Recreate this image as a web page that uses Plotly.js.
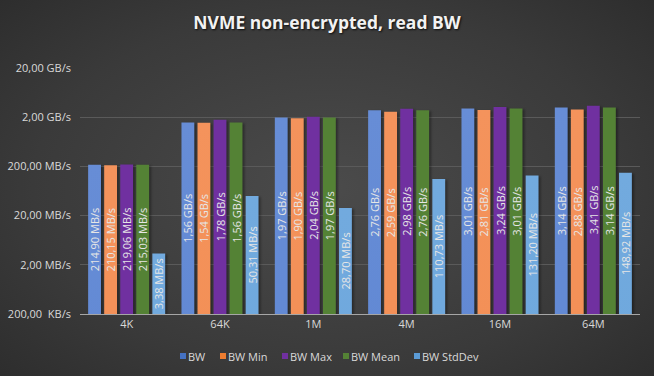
<!DOCTYPE html>
<html>
<head>
<meta charset="utf-8">
<script src="https://cdn.plot.ly/plotly-3.0.1.min.js"></script>
<style>
html,body{margin:0;padding:0;}
body{width:654px;height:376px;overflow:hidden;background:radial-gradient(ellipse 75% 80% at 50% 50%, #4b4b4b 0%, #3a3a3a 60%, #2a2a2a 100%);}
#chart{width:654px;height:376px;}
.trace.bars .point path{filter:drop-shadow(2px 1px 1px rgba(0,0,0,0.35));}
</style>
</head>
<body>
<div id="chart"></div>
<script>
// Values in MB/s
const categories = ['4K','64K','1M','4M','16M','64M'];
const bw       = [214.90, 1560, 1970, 2760, 3010, 3140];
const bwMin    = [210.15, 1540, 1900, 2590, 2810, 2880];
const bwMax    = [219.06, 1780, 2040, 2980, 3240, 3410];
const bwMean   = [215.03, 1560, 1970, 2760, 3010, 3140];
const bwStd    = [3.38, 50.31, 28.70, 110.73, 131.20, 148.92];
const seriesNames = ['BW','BW Min','BW Max','BW Mean','BW StdDev'];
const seriesColors = ['#4472C4','#ED7D31','#7030A0','#548235','#5B9BD5'];
const gradTop    = ['#678dd6','#f4935c','#7030a0','#548235','#72aade'];
const gradBottom = ['#2e60bf','#e9701f','#7030a0','#548235','#4690d2'];
const tickVals = [0.2, 2, 20, 200, 2000, 20000];
const tickText = ['200,00\u00a0\u00a0KB/s','2,00 MB/s','20,00 MB/s','200,00 MB/s','2,00 GB/s','20,00 GB/s'];

function fmt(v){
  if (v >= 1000) return (v/1000).toFixed(2).replace('.', ',') + ' GB/s';
  return v.toFixed(2).replace('.', ',') + ' MB/s';
}

const seriesValues = [bw, bwMin, bwMax, bwMean, bwStd];

const traces = seriesValues.map((vals, i) => ({
  type:'bar',
  name:seriesNames[i],
  x:categories,
  y:vals,
  text:vals.map(fmt),
  textposition:'inside',
  insidetextanchor:'middle',
  textangle:-90,
  constraintext:'none',
  textfont:{family:'Open Sans, sans-serif', size:11, color:'#e6e6e6'},
  marker:{color:seriesColors[i], line:{width:0}},
  hoverinfo:'none',
  showlegend:false
}));

// custom legend (Excel-style compact legend), positions in pixels
const plotL = 80, plotW = 560, plotB = 314, plotH = 246;
const legendSquareX = [180, 220, 282, 343, 414];
const legendY = 356;
const shapes = [];
const annotations = [];
seriesNames.forEach((name, i) => {
  const x0 = legendSquareX[i];
  shapes.push({type:'rect', xref:'paper', yref:'paper',
    x0:(x0 - plotL)/plotW, x1:(x0 + 6 - plotL)/plotW,
    y0:(plotB - (legendY + 3))/plotH, y1:(plotB - (legendY - 3))/plotH,
    fillcolor:seriesColors[i], line:{width:0}});
  annotations.push({xref:'paper', yref:'paper', x:(x0 + 8 - plotL)/plotW, y:(plotB - legendY)/plotH,
    xanchor:'left', yanchor:'middle', text:name, showarrow:false, borderpad:0, borderwidth:0,
    font:{family:'Open Sans, sans-serif', size:11, color:'#d9d9d9'}});
});

const layout = {
  width:654, height:376,
  paper_bgcolor:'rgba(0,0,0,0)',
  plot_bgcolor:'rgba(0,0,0,0)',
  margin:{l:80, r:14, t:68, b:62},
  barmode:'group',
  bargap:0.14,
  bargroupgap:0.2,
  font:{family:'Open Sans, sans-serif', color:'#d9d9d9', size:11},
  title:{text:'<b>NVME non-encrypted, read BW</b>', x:0.5, xanchor:'center', y:0.94, yanchor:'middle',
         font:{family:'Open Sans, sans-serif', size:17.5, color:'#f2f2f2', shadow:'1px 1px 2px rgba(0,0,0,0.8)'}},
  xaxis:{type:'category', showgrid:false, showline:true, linecolor:'#a6a6a6', linewidth:1,
         ticks:'', tickfont:{size:11, color:'#d9d9d9'}, zeroline:false, fixedrange:true, automargin:false},
  yaxis:{type:'log', range:[Math.log10(0.2), Math.log10(20000)], tickvals:tickVals, ticktext:tickText,
         showgrid:true, gridcolor:'#5a5a5a', gridwidth:1, showline:false, zeroline:false,
         ticks:'', ticklabelstandoff:8, tickfont:{size:11, color:'#d9d9d9'}, fixedrange:true, automargin:false},
  showlegend:false,
  shapes:shapes,
  annotations:annotations
};

Plotly.newPlot('chart', traces, layout, {displayModeBar:false, staticPlot:true}).then(gd => {
  const svg = gd.querySelector('svg.main-svg');
  const NS = 'http://www.w3.org/2000/svg';
  const defs = document.createElementNS(NS, 'defs');
  gradTop.forEach((c, i) => {
    const g = document.createElementNS(NS, 'linearGradient');
    g.setAttribute('id', 'bargrad' + i);
    g.setAttribute('x1', '0'); g.setAttribute('y1', '0');
    g.setAttribute('x2', '0'); g.setAttribute('y2', '1');
    const s1 = document.createElementNS(NS, 'stop');
    s1.setAttribute('offset', '0'); s1.setAttribute('stop-color', c);
    const s2 = document.createElementNS(NS, 'stop');
    s2.setAttribute('offset', '1'); s2.setAttribute('stop-color', gradBottom[i]);
    g.appendChild(s1); g.appendChild(s2);
    defs.appendChild(g);
  });
  svg.insertBefore(defs, svg.firstChild);
  gd.querySelectorAll('.trace.bars').forEach((tr, i) => {
    tr.querySelectorAll('.point path').forEach(p => { p.style.fill = 'url(#bargrad' + i + ')'; });
  });
});
</script>
</body>
</html>
